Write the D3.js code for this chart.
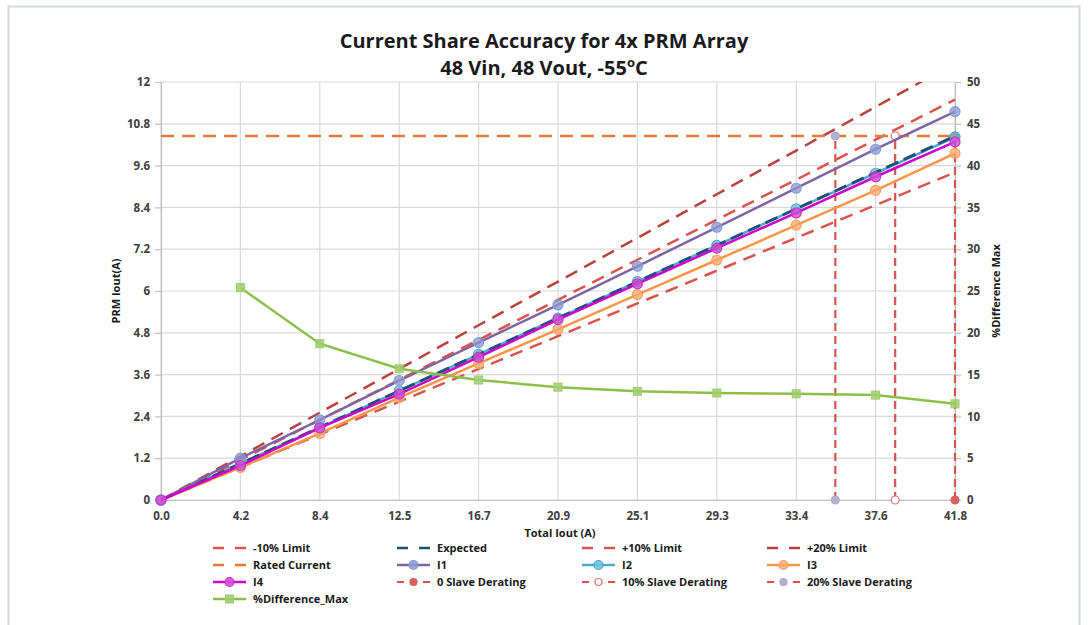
<!DOCTYPE html>
<html>
<head>
<meta charset="utf-8">
<script src="https://cdn.jsdelivr.net/npm/d3@7"></script>
<style>
  body { margin: 0; background: #fff; }
  svg { display: block; font-family: "Open Sans", "Lato", sans-serif; }
</style>
</head>
<body>
<svg id="chart" width="1088" height="625"></svg>
<script>
// ---------- DATA ----------
const totalIout = [0, 4.18, 8.36, 12.54, 16.72, 20.9, 25.08, 29.26, 33.44, 37.62, 41.8];
const xTickLabels = ["0.0", "4.2", "8.4", "12.5", "16.7", "20.9", "25.1", "29.3", "33.4", "37.6", "41.8"];
const yTicks = [0, 1.2, 2.4, 3.6, 4.8, 6, 7.2, 8.4, 9.6, 10.8, 12];
const yTickLabels = ["0", "1.2", "2.4", "3.6", "4.8", "6", "7.2", "8.4", "9.6", "10.8", "12"];
const y2Ticks = [0, 5, 10, 15, 20, 25, 30, 35, 40, 45, 50];
const expected = [0, 1.045, 2.09, 3.135, 4.18, 5.225, 6.27, 7.315, 8.36, 9.405, 10.45];
const minus10 = [0, 0.9405, 1.881, 2.8215, 3.762, 4.7025, 5.643, 6.5835, 7.524, 8.4645, 9.405];
const plus10 = [0, 1.1495, 2.299, 3.4485, 4.598, 5.7475, 6.897, 8.0465, 9.196, 10.3455, 11.495];
const plus20 = [0, 1.254, 2.508, 3.762, 5.016, 6.27, 7.524, 8.778, 10.032, 11.286, 12.54];
const ratedCurrent = [10.45, 10.45, 10.45, 10.45, 10.45, 10.45, 10.45, 10.45, 10.45, 10.45, 10.45];
const I1 = [0, 1.20, 2.30, 3.43, 4.52, 5.60, 6.71, 7.83, 8.95, 10.07, 11.15];
const I2 = [0, 1.05, 2.08, 3.13, 4.18, 5.22, 6.27, 7.31, 8.36, 9.38, 10.42];
const I3 = [0, 0.935, 1.91, 2.94, 3.92, 4.90, 5.895, 6.89, 7.89, 8.89, 9.95];
const I4 = [0, 0.99, 2.07, 3.04, 4.10, 5.18, 6.205, 7.23, 8.24, 9.28, 10.28];
const pctDiffX = [4.18, 8.36, 12.54, 16.72, 20.9, 25.08, 29.26, 33.44, 37.62, 41.8];
const pctDiffMax = [25.4, 18.7, 15.7, 14.35, 13.5, 13.0, 12.8, 12.7, 12.55, 11.5];
const slave0X = [41.8, 41.8];
const slave10X = [38.65, 38.65];
const slave20X = [35.5, 35.5];
const slaveY = [0, 10.45];

// ---------- LAYOUT ----------
const svg = d3.select("#chart");
const L = 161, R = 955, T = 82, B = 500;
const x = d3.scaleLinear().domain([0, 41.8]).range([L, R]);
const y = d3.scaleLinear().domain([0, 12]).range([B, T]);
const y2 = d3.scaleLinear().domain([0, 50]).range([B, T]);

// outer frame
svg.append("rect").attr("x", 8.5).attr("y", 6.5).attr("width", 1071).attr("height", 640)
  .attr("fill", "#fff").attr("stroke", "#cfdcdf").attr("stroke-width", 2);

// clip
svg.append("defs").append("clipPath").attr("id", "plotclip")
  .append("rect").attr("x", L - 8).attr("y", T).attr("width", R - L + 16).attr("height", B - T + 8);

// gridlines
const grid = svg.append("g");
grid.selectAll(".hg").data(yTicks).enter().append("line")
  .attr("x1", L).attr("x2", R).attr("y1", d => y(d)).attr("y2", d => y(d))
  .attr("stroke", "#d9d9d9").attr("stroke-width", 1.2);
grid.selectAll(".vg").data(totalIout).enter().append("line")
  .attr("x1", d => x(d)).attr("x2", d => x(d)).attr("y1", T).attr("y2", B)
  .attr("stroke", "#d9d9d9").attr("stroke-width", 1.2);

// axes
const leftAxis = d3.axisLeft(y).tickValues(yTicks).tickFormat((d, i) => yTickLabels[i]).tickSize(6).tickPadding(5);
const rightAxis = d3.axisRight(y2).tickValues(y2Ticks).tickSize(6).tickPadding(6);
const bottomAxis = d3.axisBottom(x).tickValues(totalIout).tickFormat((d, i) => xTickLabels[i]).tickSize(0).tickPadding(12);

function styleAxis(g) {
  g.select(".domain").attr("stroke", "#bfbfbf").attr("stroke-width", 1.2);
  g.selectAll(".tick line").attr("stroke", "#bfbfbf").attr("stroke-width", 1.2);
  g.selectAll("text").attr("fill", "#404040").style("font-size", "11.5px").style("font-weight", "bold")
    .style("font-family", "'Open Sans', sans-serif");
}
svg.append("g").attr("transform", `translate(${L},0)`).call(leftAxis).call(styleAxis);
svg.append("g").attr("transform", `translate(${R},0)`).call(rightAxis).call(styleAxis);
svg.append("g").attr("transform", `translate(0,${B})`).call(bottomAxis).call(styleAxis);

// ---------- SERIES ----------
const plot = svg.append("g").attr("clip-path", "url(#plotclip)");
const lineGen = (xs, ys, ysc) => d3.line().x((d, i) => x(xs[i])).y((d) => ysc(d))(ys);

function dashed(xs, ys, color, width, dash) {
  plot.append("path").attr("d", lineGen(xs, ys, y)).attr("fill", "none")
    .attr("stroke", color).attr("stroke-width", width).attr("stroke-dasharray", dash);
}
function solid(xs, ys, color, width, mcolor, mfill, ysc, square) {
  ysc = ysc || y;
  plot.append("path").attr("d", lineGen(xs, ys, ysc)).attr("fill", "none")
    .attr("stroke", color).attr("stroke-width", width);
  const g = plot.append("g");
  if (square) {
    g.selectAll("rect").data(ys).enter().append("rect")
      .attr("x", (d, i) => x(xs[i]) - 4).attr("y", d => ysc(d) - 4).attr("width", 8).attr("height", 8)
      .attr("fill", mfill).attr("stroke", mcolor).attr("stroke-width", 1);
  } else {
    g.selectAll("circle").data(ys).enter().append("circle")
      .attr("cx", (d, i) => x(xs[i])).attr("cy", d => ysc(d)).attr("r", 5)
      .attr("fill", mfill).attr("stroke", mcolor).attr("stroke-width", 1.2);
  }
}

const cMinus10 = "#d9534f", cPlus10 = "#d9534f", cPlus20 = "#b7433f";
const cExpected = "#1f4e79", cRated = "#e07b39";
const cI1 = "#8064a2", cI2 = "#4bacc6", cI3 = "#f79646", cI4 = "#cc00cc", cPct = "#8cbf4a";
const cSlave = "#d9534f";

dashed(totalIout, minus10, cMinus10, 2.5, "13,8");
dashed(totalIout, plus10, cPlus10, 2.5, "13,8");
dashed(totalIout, plus20, cPlus20, 2.5, "13,8");
dashed(totalIout, ratedCurrent, cRated, 2.5, "13,8");

// slave derating vertical lines
function slave(xs, mfill, mstroke) {
  plot.append("path").attr("d", lineGen(xs, slaveY, y)).attr("fill", "none")
    .attr("stroke", cSlave).attr("stroke-width", 2.2).attr("stroke-dasharray", "8,5");
  plot.append("g").selectAll("circle").data(slaveY).enter().append("circle")
    .attr("cx", (d, i) => x(xs[i])).attr("cy", d => y(d)).attr("r", 4)
    .attr("fill", mfill).attr("stroke", mstroke).attr("stroke-width", 1.2);
}
slave(slave20X, "#aab4d6", "#c9a0b0");
slave(slave10X, "#ffffff", "#e07070");
slave(slave0X, "#d9605c", "#d9605c");

solid(totalIout, I3, cI3, 2.5, "#f7a060", "rgba(250,170,110,0.75)");
solid(totalIout, I2, cI2, 2.5, "#4bacc6", "rgba(110,190,215,0.75)");
dashed(totalIout, expected, cExpected, 2.8, "13,6");
solid(totalIout, I1, cI1, 2.5, "#7f9fd6", "rgba(140,150,210,0.75)");
solid(totalIout, I4, cI4, 2.5, "#cc33cc", "rgba(210,80,210,0.8)");
solid(pctDiffX, pctDiffMax, cPct, 2.5, "#9ccc6a", "rgba(160,205,110,0.85)", y2, true);

// ---------- TEXT ----------
svg.append("text").attr("x", 544).attr("y", 48).attr("text-anchor", "middle")
  .style("font-size", "20px").style("font-weight", "bold").attr("fill", "#1a1a1a")
  .text("Current Share Accuracy for 4x PRM Array");
const t2 = svg.append("text").attr("x", 544).attr("y", 75).attr("text-anchor", "middle")
  .style("font-size", "20px").style("font-weight", "bold").attr("fill", "#1a1a1a");
t2.append("tspan").text("48 Vin, 48 Vout, -55");
t2.append("tspan").attr("dy", -8).style("font-size", "13px").text("o");
t2.append("tspan").attr("dy", 8).text("C");

svg.append("text").attr("x", 560).attr("y", 537).attr("text-anchor", "middle")
  .style("font-size", "11px").style("font-weight", "bold").attr("fill", "#1a1a1a").text("Total Iout (A)");
svg.append("text").attr("transform", "translate(120,291) rotate(-90)").attr("text-anchor", "middle")
  .style("font-size", "11px").style("font-weight", "bold").attr("fill", "#1a1a1a").text("PRM Iout(A)");
svg.append("text").attr("transform", "translate(1000,291) rotate(-90)").attr("text-anchor", "middle")
  .style("font-size", "11px").style("font-weight", "bold").attr("fill", "#1a1a1a").text("%Difference Max");

// ---------- LEGEND ----------
const legendItems = [
  {name: "-10% Limit", color: cMinus10, type: "dash"},
  {name: "Expected", color: cExpected, type: "dash"},
  {name: "+10% Limit", color: cPlus10, type: "dash"},
  {name: "+20% Limit", color: cPlus20, type: "dash"},
  {name: "Rated Current", color: cRated, type: "dash"},
  {name: "I1", color: cI1, type: "line", mfill: "rgba(140,150,210,0.85)", mstroke: "#7f9fd6"},
  {name: "I2", color: cI2, type: "line", mfill: "rgba(110,190,215,0.85)", mstroke: "#4bacc6"},
  {name: "I3", color: cI3, type: "line", mfill: "rgba(250,170,110,0.85)", mstroke: "#f7a060"},
  {name: "I4", color: cI4, type: "line", mfill: "rgba(210,80,210,0.9)", mstroke: "#cc33cc"},
  {name: "0 Slave Derating", color: cSlave, type: "slave", mfill: "#d9605c", mstroke: "#d9605c"},
  {name: "10% Slave Derating", color: cSlave, type: "slave", mfill: "#ffffff", mstroke: "#e07070"},
  {name: "20% Slave Derating", color: cSlave, type: "slave", mfill: "#aab4d6", mstroke: "#c9a0b0"},
  {name: "%Difference_Max", color: cPct, type: "sq", mfill: "rgba(160,205,110,0.9)", mstroke: "#9ccc6a"}
];
const colX = [213, 397, 582, 767];
const rowY = [548, 565, 582, 599];
const lg = svg.append("g");
legendItems.forEach((it, i) => {
  const cx = colX[i % 4], cy = rowY[Math.floor(i / 4)];
  const g = lg.append("g").attr("transform", `translate(${cx},${cy})`);
  if (it.type === "dash") {
    g.append("line").attr("x1", 0).attr("x2", 33).attr("y1", 0).attr("y2", 0)
      .attr("stroke", it.color).attr("stroke-width", 2.5).attr("stroke-dasharray", "11,11");
  } else if (it.type === "slave") {
    g.append("line").attr("x1", 0).attr("x2", 33).attr("y1", 0).attr("y2", 0)
      .attr("stroke", it.color).attr("stroke-width", 2.2).attr("stroke-dasharray", "7,6");
    g.append("circle").attr("cx", 16.5).attr("cy", 0).attr("r", 3.5)
      .attr("fill", it.mfill).attr("stroke", it.mstroke).attr("stroke-width", 1.2);
  } else {
    g.append("line").attr("x1", 0).attr("x2", 33).attr("y1", 0).attr("y2", 0)
      .attr("stroke", it.color).attr("stroke-width", 2.5);
    if (it.type === "sq") {
      g.append("rect").attr("x", 12.5).attr("y", -4).attr("width", 8).attr("height", 8)
        .attr("fill", it.mfill).attr("stroke", it.mstroke);
    } else {
      g.append("circle").attr("cx", 16.5).attr("cy", 0).attr("r", 4.5)
        .attr("fill", it.mfill).attr("stroke", it.mstroke).attr("stroke-width", 1.2);
    }
  }
  g.append("text").attr("x", 40).attr("y", 4).style("font-size", "11px").style("font-weight", "bold")
    .attr("fill", "#1a1a1a").text(it.name);
});
</script>
</body>
</html>
